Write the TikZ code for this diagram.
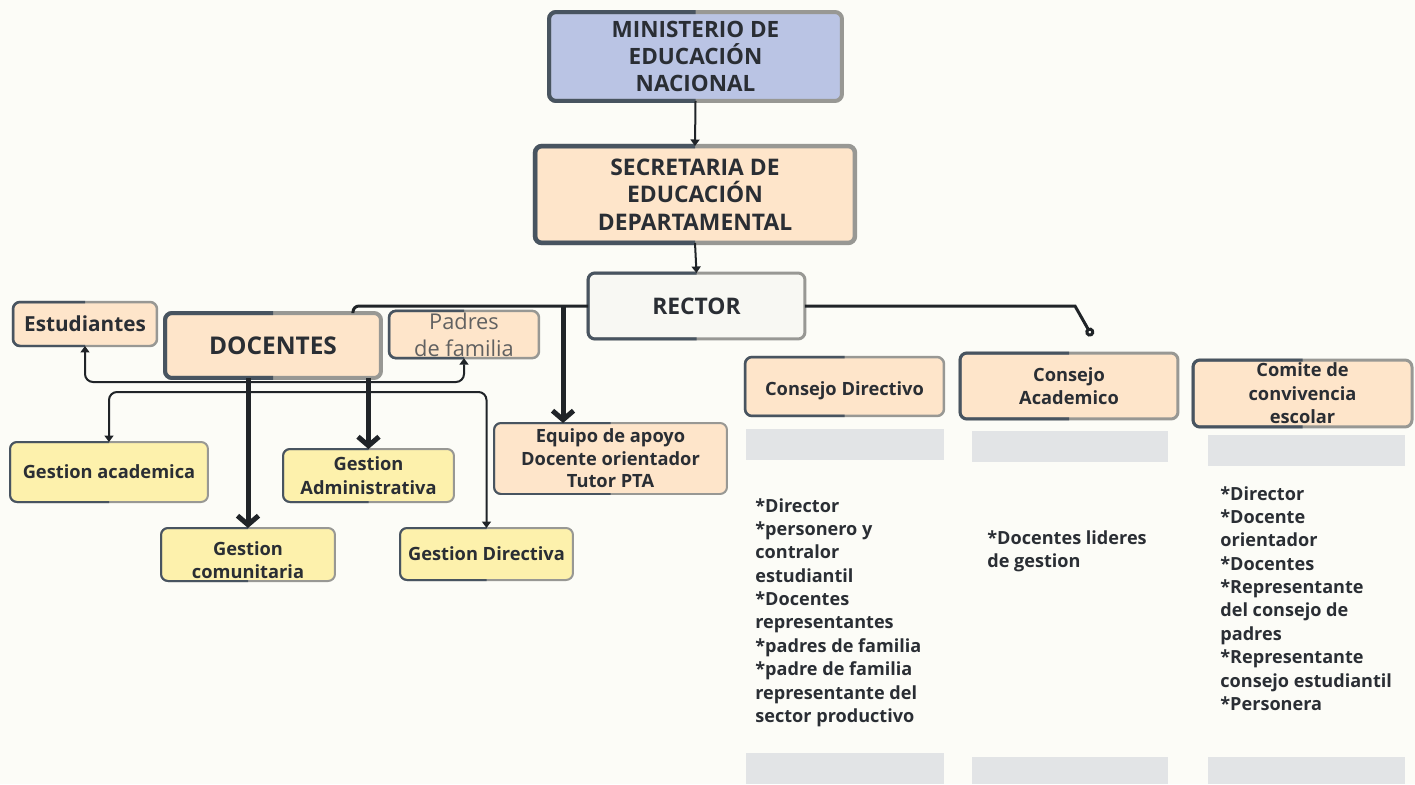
\documentclass[tikz,border=0pt]{standalone}
\usepackage{fontspec}
\setmainfont{Open Sans}
\usetikzlibrary{arrows.meta}

\definecolor{paper}{RGB}{252,252,247}
\definecolor{ink}{RGB}{42,46,52}
\definecolor{wire}{RGB}{32,36,40}
\definecolor{boxDark}{RGB}{72,84,96}
\definecolor{boxLight}{RGB}{152,152,148}
\definecolor{lavender}{RGB}{186,196,228}
\definecolor{peach}{RGB}{254,229,202}
\definecolor{butter}{RGB}{253,241,172}
\definecolor{chalk}{RGB}{248,248,243}
\definecolor{slotGray}{RGB}{226,228,230}

\tikzset{
  orgbox/.style={draw=boxLight, rounded corners=0.14cm, outer sep=0pt, inner sep=1pt,
    align=center, text=ink, font=\bfseries\fontsize{10.4}{13.3}\selectfont},
  slotbar/.style={fill=slotGray, inner sep=0pt, outer sep=0pt},
  memberlist/.style={anchor=north west, align=left, inner sep=0pt, text=ink,
    font=\bfseries\fontsize{10.3}{13.3}\selectfont},
  thinArrow/.style={draw=wire, line width=0.04cm, -{Triangle[length=0.13cm,width=0.18cm]}},
  heavyArrow/.style={draw=wire, line width=0.1cm, -{Straight Barb[length=0.18cm,width=0.42cm]}},
  rectorLine/.style={draw=wire, line width=0.06cm}
}

\begin{document}
\begin{tikzpicture}[x=0.02cm,y=-0.02cm]

%Page
\fill[paper] (0,0) rectangle (1415,784);
\useasboundingbox (0,0) rectangle (1415,784);

%Ministry block
\node (ministerio) at (695.5,56.5) [orgbox, fill=lavender, line width=0.08cm, minimum width=5.86cm,
minimum height=1.78cm, font=\bfseries\fontsize{12.8}{15.6}\selectfont]{MINISTERIO DE\\ EDUCACIÓN\\ NACIONAL};

%Secretary block
\node (secretaria) at (695,194.5) [orgbox, fill=peach, line width=0.09cm, minimum width=6.4cm,
minimum height=1.94cm, font=\bfseries\fontsize{13}{15.6}\selectfont]{SECRETARIA DE\\ EDUCACIÓN\\ DEPARTAMENTAL};

%Rector
\node (rector) at (696.5,306) [orgbox, fill=chalk, line width=0.06cm, minimum width=4.34cm,
minimum height=1.32cm, font=\bfseries\fontsize{13}{15}\selectfont]{RECTOR};

%Teachers, students, parents
\node (estudiantes) at (85,324) [orgbox, fill=peach, line width=0.05cm, minimum width=2.88cm,
minimum height=0.88cm, font=\bfseries\fontsize{11.8}{14}\selectfont]{Estudiantes};
\node (docentes) at (273,345.5) [orgbox, fill=peach, line width=0.08cm, minimum width=4.32cm,
minimum height=1.3cm, font=\bfseries\fontsize{13.9}{16}\selectfont]{DOCENTES};
\node (padres) at (464,334.5) [orgbox, fill=peach, line width=0.05cm, minimum width=3cm,
minimum height=0.9cm, text=black!62, font=\fontsize{12.4}{15.4}\selectfont]{Padres\\ de familia};

%Management areas
\node (gacad) at (109,472) [orgbox, fill=butter, line width=0.04cm, minimum width=3.96cm,
minimum height=1.2cm]{Gestion academica};
\node (gcom) at (248,554.5) [orgbox, fill=butter, line width=0.04cm, minimum width=3.48cm,
minimum height=1.06cm]{\rule{0pt}{14pt}Gestion\\ comunitaria};
\node (gadm) at (368.5,475.5) [orgbox, fill=butter, line width=0.04cm, minimum width=3.42cm,
minimum height=1.06cm]{Gestion\\ Administrativa};
\node (gdir) at (486.5,554) [orgbox, fill=butter, line width=0.04cm, minimum width=3.46cm,
minimum height=1.04cm]{Gestion Directiva};

%Support team
\node (equipo) at (610.5,458.5) [orgbox, fill=peach, line width=0.04cm, minimum width=4.66cm,
minimum height=1.42cm, font=\bfseries\fontsize{10.4}{12.8}\selectfont]{Equipo de apoyo\\ Docente orientador\\ Tutor PTA};

%Councils
\node (cdir) at (844.5,386.5) [orgbox, fill=peach, line width=0.05cm, minimum width=3.98cm,
minimum height=1.18cm]{\rule{0pt}{13pt}Consejo Directivo};
\node (cacad) at (1069,386) [orgbox, fill=peach, line width=0.06cm, minimum width=4.36cm,
minimum height=1.32cm]{Consejo\\ Academico};
\node (comite) at (1302.5,393.5) [orgbox, fill=peach, line width=0.06cm, minimum width=4.38cm,
minimum height=1.34cm]{Comite de\\ convivencia\\ escolar};

%Grey bars above and below the member lists
\node (cdirTop) at (845,444.5) [slotbar, minimum width=3.96cm, minimum height=0.62cm]{};
\node (cacadTop) at (1070,446.5) [slotbar, minimum width=3.92cm, minimum height=0.62cm]{};
\node (comiteTop) at (1306.5,450.5) [slotbar, minimum width=3.94cm, minimum height=0.62cm]{};
\node (cdirEnd) at (845,768.5) [slotbar, minimum width=3.96cm, minimum height=0.62cm]{};
\node (cacadEnd) at (1070,770.5) [slotbar, minimum width=3.92cm, minimum height=0.54cm]{};
\node (comiteEnd) at (1306.5,770.5) [slotbar, minimum width=3.94cm, minimum height=0.54cm]{};

%Member lists
\node (cdirMembers) at (755,498) [memberlist]{*Director\\ *personero y\\ contralor\\ estudiantil\\
*Docentes\\ representantes\\ *padres de familia\\ *padre de familia\\ representante del\\ sector productivo};
\node (cacadMembers) at (987,530) [memberlist]{*Docentes lideres\\ de gestion};
\node (comiteMembers) at (1220,486) [memberlist]{*Director\\ *Docente\\ orientador\\ *Docentes\\
*Representante\\ del consejo de\\ padres\\ *Representante\\ consejo estudiantil\\ *Personera};

%Dark left half of every border
\foreach \n/\lw in {ministerio/0.08cm, secretaria/0.09cm, rector/0.06cm, estudiantes/0.05cm,
docentes/0.08cm, padres/0.05cm, gacad/0.04cm, gcom/0.04cm, gadm/0.04cm, gdir/0.04cm,
equipo/0.04cm, cdir/0.05cm, cacad/0.06cm, comite/0.06cm}{
  \begin{scope}
    \clip ([xshift=-0.2cm,yshift=0.2cm]\n.north west) rectangle ([yshift=-0.2cm]\n.south);
    \draw[boxDark, line width=\lw, rounded corners=0.14cm] (\n.north west) rectangle (\n.south east);
  \end{scope}
}

%Links among blocks
\draw[thinArrow] (ministerio.south) -- (secretaria.north);
\draw[thinArrow] (secretaria.south) -- (rector.north);

\draw[rectorLine, rounded corners=0.12cm] (rector.west) -| ([xshift=1.6cm]docentes.north);
\coordinate (equipoIn) at ([xshift=-0.95cm]equipo.north);
\draw[heavyArrow] (equipoIn |- rector.west) -- (equipoIn);

\coordinate (academicoBend) at (1075,306);
\coordinate (academicoTip) at (1092,336);
\draw[rectorLine, -{Circle[open,length=0.18cm]}] (rector.east) -- (academicoBend) -- (academicoTip);

%Brackets under the teachers
\coordinate (familyBar) at (273,382);
\draw[thinArrow, {Triangle[length=0.13cm,width=0.18cm]}-{Triangle[length=0.13cm,width=0.18cm]},
rounded corners=0.16cm] (estudiantes.south) |- (familyBar) -| (padres.south);
\coordinate (gestionBar) at (273,392);
\draw[thinArrow, {Triangle[length=0.13cm,width=0.18cm]}-{Triangle[length=0.13cm,width=0.18cm]},
rounded corners=0.16cm] (gacad.north) |- (gestionBar) -| (gdir.north);
\draw[heavyArrow] (docentes.south -| gcom.north) -- (gcom.north);
\draw[heavyArrow] (docentes.south -| gadm.north) -- (gadm.north);

\end{tikzpicture}
\end{document}
